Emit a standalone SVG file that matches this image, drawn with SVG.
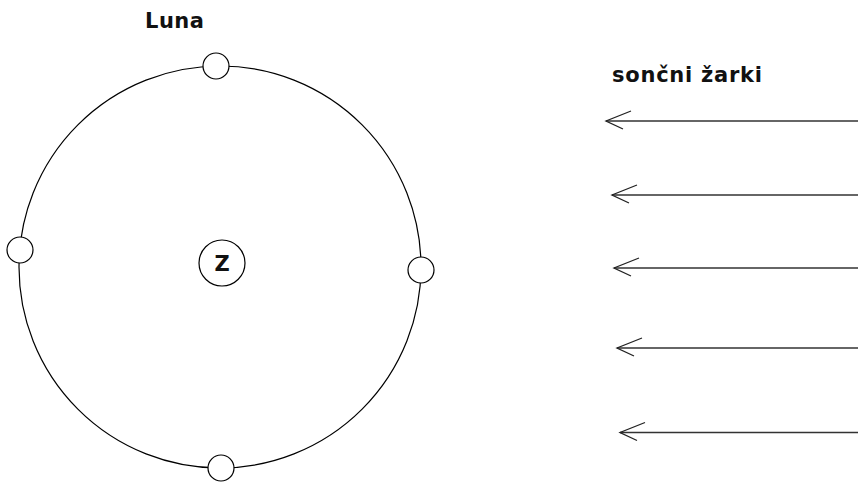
<svg xmlns="http://www.w3.org/2000/svg" width="861" height="482" viewBox="0 0 861 482">
  <style>
    .orbit { fill: none; stroke: #000; stroke-width: 1.2; }
    .moon { fill: #fff; stroke: #000; stroke-width: 1.2; }
    .label { font-family: "DejaVu Sans", "Liberation Sans", sans-serif; font-weight: bold; font-size: 21px; fill: #111; }
    .ray { stroke: #333; stroke-width: 1.6; fill: none; marker-end: url(#head); }
  </style>
  <defs>
    <marker id="head" markerUnits="userSpaceOnUse" markerWidth="40" markerHeight="40" viewBox="-30 -15 40 30" refX="0" refY="0" orient="auto" overflow="visible">
      <path d="M -25 10 L 0 0 L -17 -8" fill="none" stroke="#222" stroke-width="1.3"/>
    </marker>
  </defs>
  <rect width="861" height="482" fill="#fff"/>

  <!-- orbit of the Moon around the Earth -->
  <g id="orbit">
    <ellipse class="orbit" cx="220" cy="267" rx="201" ry="201"/>
  </g>

  <!-- Earth -->
  <g id="earth">
    <circle class="moon" cx="222" cy="263" r="23"/>
    <text class="label" x="222" y="271" text-anchor="middle" font-size="22">Z</text>
  </g>

  <!-- Moon in four positions -->
  <g id="moon-top"><circle class="moon" cx="216" cy="66" r="13"/></g>
  <g id="moon-left"><circle class="moon" cx="20" cy="250" r="13"/></g>
  <g id="moon-right"><circle class="moon" cx="421" cy="270" r="13"/></g>
  <g id="moon-bottom"><circle class="moon" cx="221" cy="468" r="13"/></g>

  <g id="label-luna"><text class="label" x="145" y="28" textLength="59" lengthAdjust="spacing">Luna</text></g>
  <g id="label-rays"><text class="label" x="612" y="82" textLength="150" lengthAdjust="spacing">sončni žarki</text></g>

  <!-- sun rays -->
  <g id="rays">
    <line class="ray" x1="858" y1="121" x2="606" y2="121"/>
    <line class="ray" x1="858" y1="195" x2="612" y2="195"/>
    <line class="ray" x1="858" y1="268" x2="614" y2="268"/>
    <line class="ray" x1="858" y1="348" x2="617" y2="348"/>
    <line class="ray" x1="858" y1="432.5" x2="620" y2="432.5"/>
  </g>
</svg>
